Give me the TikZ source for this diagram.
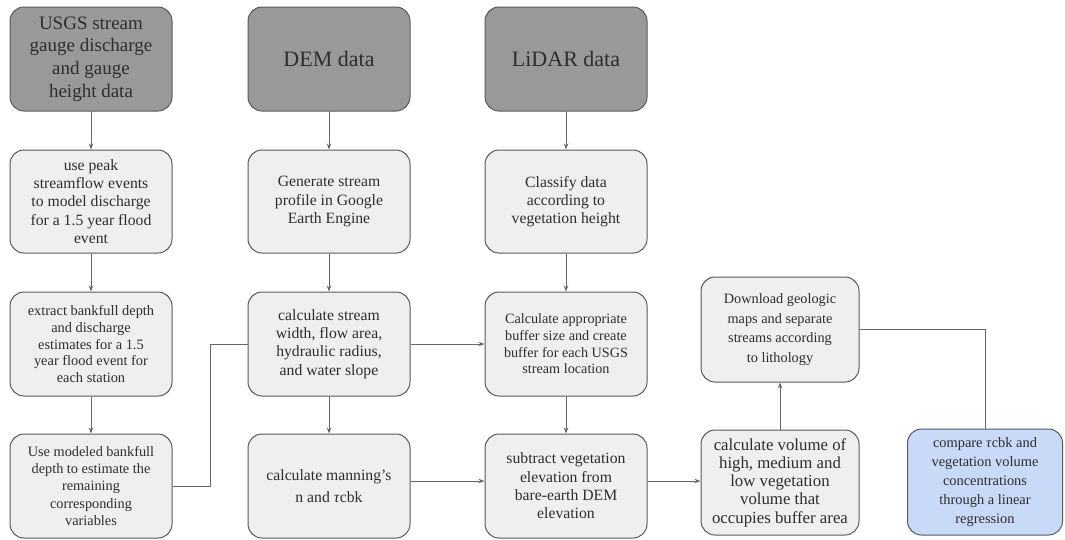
\documentclass[tikz,border=0pt]{standalone}
\usepackage{fontspec}
\setmainfont{Liberation Serif}[Ligatures=TeX]
\usetikzlibrary{arrows.meta,calc}
\definecolor{darkbox}{HTML}{999999}
\definecolor{lightbox}{HTML}{EFEFEF}
\definecolor{bluebox}{HTML}{C9DAF8}
\definecolor{edge}{HTML}{595959}
\definecolor{conn}{HTML}{666666}
\newcommand{\fs}[2]{\rmfamily\fontsize{#1}{#2}\selectfont}
\tikzset{
  box/.style={draw=edge,line width=1pt,rounded corners=14pt,align=center,inner sep=2pt,text=black!82},
  srcbox/.style={box,fill=darkbox,minimum width=162,minimum height=104,font=\fs{22}{25}},
  stepbox/.style={box,fill=lightbox,minimum width=162,minimum height=104,font=\fs{15.7}{18.3}},
  finalbox/.style={box,fill=bluebox,font=\fs{14.4}{19}},
  link/.style={draw=conn,line width=0.9pt},
  arr/.style={link,-{Stealth[length=6pt,width=4.5pt]}}
}
\begin{document}
\begin{tikzpicture}[x=1pt,y=-1pt]
\useasboundingbox (0,0) rectangle (1065,539);
% row 1
\node[srcbox,font=\fs{19}{22.7}] (a1) at (91,59) {USGS stream\\gauge discharge\\and gauge\\height data};
\node[srcbox] (b1) at (329,59) {DEM data};
\node[srcbox] (c1) at (566,59) {LiDAR data};
% row 2
\node[stepbox,minimum height=103] (a2) at (91,201.5) {use peak\\streamflow events\\to model discharge\\for a 1.5 year flood\\event};
\node[stepbox,minimum height=103] (b2) at (329,201.5) {Generate stream\\profile in Google\\Earth Engine};
\node[stepbox,minimum height=103] (c2) at (566,201.5) {Classify data\\according to\\vegetation height};
% row 3
\node[stepbox,font=\fs{14.4}{16.7}] (a3) at (91,344) {extract bankfull depth\\and discharge\\estimates for a 1.5\\year flood event for\\each station};
\node[stepbox] (b3) at (329,344) {calculate stream\\width, flow area,\\hydraulic radius,\\and water slope};
\node[stepbox,font=\fs{14.2}{16.7}] (c3) at (566,344) {Calculate appropriate\\buffer size and create\\buffer for each USGS\\stream location};
\node[stepbox,minimum width=158,minimum height=105,font=\fs{14.3}{19.4}] (d3) at (780,329.5) {Download geologic\\maps and separate\\streams according\\to lithology};
% row 4
\node[stepbox,font=\fs{14.3}{17.1}] (a4) at (91,486) {Use modeled bankfull\\depth to estimate the\\remaining\\corresponding\\variables};
\node[stepbox,font=\fs{15.7}{21.5}] (b4) at (329,486) {calculate manning’s\\n and \textit{τ}cbk};
\node[stepbox] (c4) at (566,486) {subtract vegetation\\elevation from\\bare-earth DEM\\elevation};
\node[stepbox,minimum width=158,minimum height=105,font=\fs{16.8}{18.3}] (d4) at (780,482.5) {calculate volume of\\high, medium and\\low vegetation\\volume that\\occupies buffer area};
\node[finalbox,minimum width=155,minimum height=106] (e4) at (985,482) {compare \textit{τ}cbk and\\vegetation volume\\concentrations\\through a linear\\regression};
% connectors
\draw[arr] (a1) -- (a2);
\draw[arr] (a2) -- (a3);
\draw[arr] (a3) -- (a4);
\draw[arr] (b1) -- (b2);
\draw[arr] (b2) -- (b3);
\draw[arr] (b3) -- (b4);
\draw[arr] (c1) -- (c2);
\draw[arr] (c2) -- (c3);
\draw[arr] (c3) -- (c4);
\draw[link] (a4.east) -| (210,344) -- (b3.west);
\draw[arr] (b3.east) -- (c3.west);
\draw[arr] ([yshift=5pt]b4.east) -- ([yshift=5pt]c4.west);
\draw[arr] ([yshift=5pt]c4.east) -- ([yshift=1.5pt]d4.west);
\draw[arr] (d4) -- (d3);
\draw[link] (d3.east) -| (e4.north);
\end{tikzpicture}
\end{document}
